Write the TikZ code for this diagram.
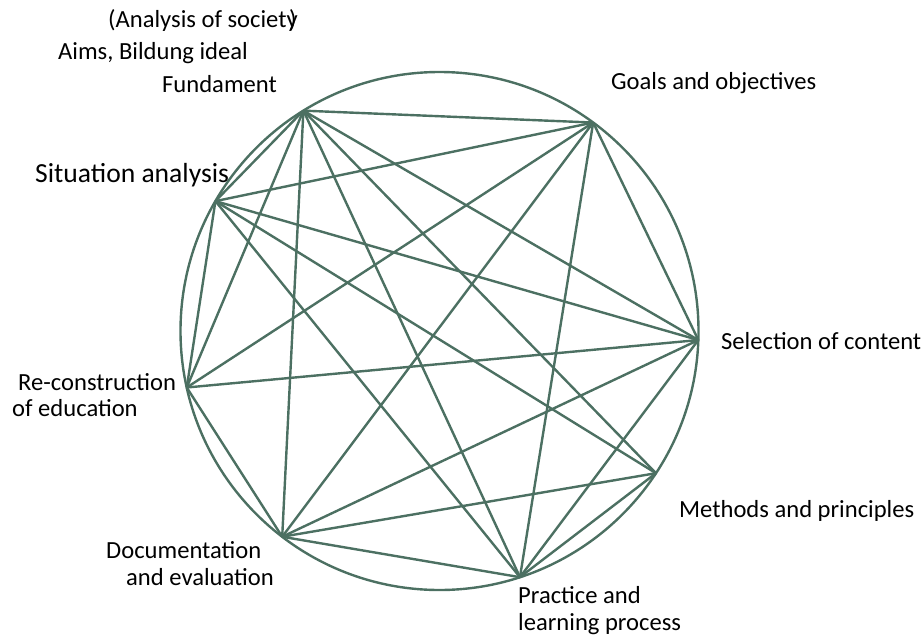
\documentclass[tikz,border=0pt]{standalone}
\usepackage{fontspec}
\setmainfont{Carlito}
\usetikzlibrary{calc}
\definecolor{edgecol}{RGB}{76,112,98}
\begin{document}
\begin{tikzpicture}[x=1pt,y=-1pt,
  lbl/.style={inner sep=0pt,anchor=base west,text=black,font=\fontsize{24.6}{29}\selectfont},
  biglbl/.style={lbl,font=\fontsize{27.6}{32}\selectfont},
  edge/.style={draw=edgecol,line width=2.4pt},
  ring/.style={draw=edgecol,line width=2.4pt}]
\useasboundingbox (0,0) rectangle (922,638);
\coordinate (c) at (439.5,331);
\draw[ring] (c) circle[radius=259pt];
\coordinate (F) at ($(c)+(121.7:259pt)$);
\coordinate (G) at ($(c)+(53.6:259pt)$);
\coordinate (S) at ($(c)+(-2:259pt)$);
\coordinate (M) at ($(c)+(-33.3:259pt)$);
\coordinate (P) at ($(c)+(-71.9:259pt)$);
\coordinate (D) at ($(c)+(-127.4:259pt)$);
\coordinate (R) at ($(c)+(-167.4:259pt)$);
\coordinate (A) at ($(c)+(149.9:259pt)$);
\foreach \a/\b in {F/G,F/A,F/R,F/D,F/P,F/M,F/S,G/A,G/R,G/S,G/P,G/D,S/A,S/R,S/D,S/P,M/A,M/D,M/P,P/A,P/D,D/R,R/A}
  \draw[edge] (\a) -- (\b);
\node[lbl] (t1) at (108,27) {(Analysis of society\kern-0.35em)};
\node[lbl] (t2) at (58,59) {Aims, Bildung ideal};
\node[lbl] (t3) at (162,92) {Fundament};
\node[biglbl] (t4) at (35,182) {Situation analysis};
\node[lbl] (t5) at (611,89) {Goals and objectives};
\node[lbl] (t6) at (721,349) {Selection of content};
\node[lbl] (t7) at (679,517) {Methods and principles};
\node[lbl] (t8a) at (18,390) {Re-construction};
\node[lbl] (t8b) at (12,416) {of education};
\node[lbl] (t9a) at (106,558) {Documentation};
\node[lbl] (t9b) at (126,585) {and evaluation};
\node[lbl] (t10a) at (518,603) {Practice and};
\node[lbl] (t10b) at (518,630) {learning process};
\end{tikzpicture}
\end{document}
